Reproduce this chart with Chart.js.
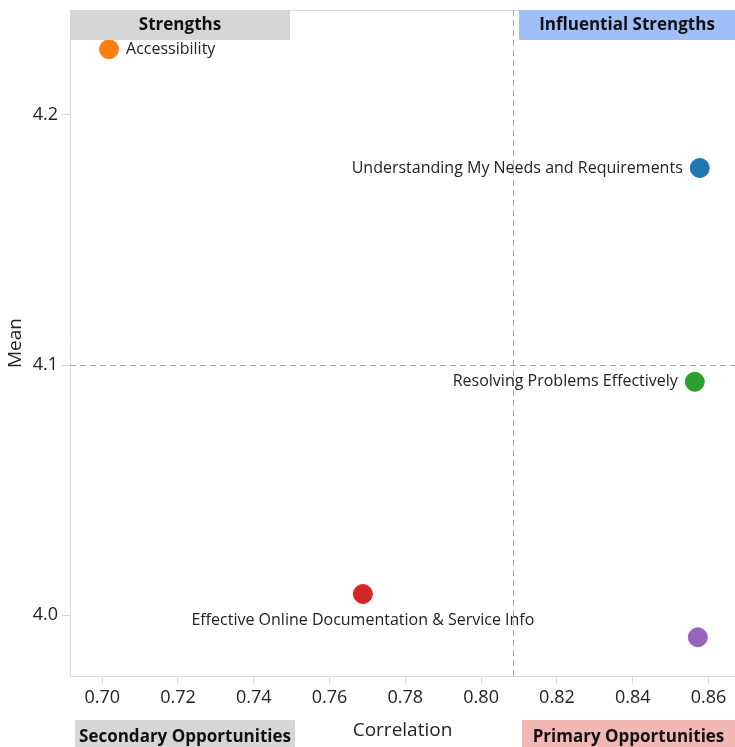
<!DOCTYPE html>
<html>
<head>
<meta charset="utf-8">
<script src="https://cdn.jsdelivr.net/npm/chart.js@4"></script>
<style>
  html, body { margin: 0; padding: 0; background: #fff; }
  #wrap { width: 735px; height: 747px; }
</style>
</head>
<body>
<div id="wrap"><canvas id="chart" width="735" height="747"></canvas></div>
<script>
// --- Data ---
const drivers = [
  "Understanding My Needs and Requirements",
  "Accessibility",
  "Resolving Problems Effectively",
  "Effective Online Documentation & Service Info",
  ""
];
const correlation = [0.8577, 0.7018, 0.8564, 0.7688, 0.8572];
const mean = [4.1788, 4.2263, 4.0933, 4.0084, 3.9911];
const colors = ["#1f77b4", "#ff7f0e", "#2ca02c", "#d62728", "#9467bd"];
const xTicks = [0.70, 0.72, 0.74, 0.76, 0.78, 0.80, 0.82, 0.84, 0.86];
const yTicks = [4.0, 4.1, 4.2];
const avgCorrelation = 0.8085;
const avgMean = 4.1;

const FONT = "'Open Sans', sans-serif";

// where each label sits relative to its dot
const labelSide = { 0: "left", 1: "right", 2: "left", 3: "below" };

function noPad(s) {
  s.paddingTop = 0; s.paddingBottom = 0; s.paddingLeft = 0; s.paddingRight = 0;
}

const overlay = {
  id: "overlay",
  beforeDatasetsDraw(chart) {
    const { ctx, chartArea: a, scales: { x, y } } = chart;
    ctx.save();
    // top border
    ctx.strokeStyle = "#dcdcdc";
    ctx.lineWidth = 1;
    ctx.beginPath();
    ctx.moveTo(a.left, a.top + 0.5);
    ctx.lineTo(a.right, a.top + 0.5);
    ctx.stroke();
    // average lines
    ctx.strokeStyle = "#a8a8a8";
    ctx.setLineDash([6, 4]);
    const px = Math.round(x.getPixelForValue(avgCorrelation)) + 0.5;
    const py = Math.round(y.getPixelForValue(avgMean)) + 0.5;
    ctx.beginPath();
    ctx.moveTo(px, a.top);
    ctx.lineTo(px, a.bottom);
    ctx.moveTo(a.left, py);
    ctx.lineTo(a.right, py);
    ctx.stroke();
    ctx.restore();
  },
  afterDatasetsDraw(chart) {
    const { ctx, chartArea: a } = chart;
    ctx.save();
    // point labels
    ctx.fillStyle = "#222";
    ctx.font = "16px " + FONT;
    const meta = chart.getDatasetMeta(0);
    meta.data.forEach((pt, i) => {
      const side = labelSide[i];
      if (!side || !drivers[i]) return;
      if (side === "left") {
        ctx.textAlign = "right"; ctx.textBaseline = "middle";
        ctx.fillText(drivers[i], pt.x - 17, pt.y);
      } else if (side === "right") {
        ctx.textAlign = "left"; ctx.textBaseline = "middle";
        ctx.fillText(drivers[i], pt.x + 17, pt.y);
      } else {
        ctx.textAlign = "center"; ctx.textBaseline = "middle";
        ctx.fillText(drivers[i], pt.x, pt.y + 26);
      }
    });
    // quadrant headers
    const boxes = [
      { text: "Strengths", x: a.left, y: a.top, w: 220, h: 30, fill: "#d6d6d6" },
      { text: "Influential Strengths", x: a.right - 216, y: a.top, w: 216, h: 30, fill: "#a0bff8" },
      { text: "Secondary Opportunities", x: a.left + 5, y: 720, w: 220, h: 30, fill: "#d6d6d6" },
      { text: "Primary Opportunities", x: a.right - 213, y: 720, w: 213, h: 30, fill: "#f0b7b3" }
    ];
    ctx.font = "bold 17px " + FONT;
    ctx.textAlign = "center";
    ctx.textBaseline = "middle";
    boxes.forEach(b => {
      ctx.fillStyle = b.fill;
      ctx.fillRect(b.x, b.y, b.w, b.h);
      ctx.fillStyle = "#111";
      ctx.fillText(b.text, b.x + b.w / 2, b.y + (b.y > 600 ? 17 : 15));
    });
    ctx.restore();
  }
};

new Chart(document.getElementById("chart").getContext("2d"), {
  type: "scatter",
  data: {
    datasets: [{
      data: correlation.map((c, i) => ({ x: c, y: mean[i] })),
      backgroundColor: colors,
      borderColor: colors,
      pointRadius: 9.5,
      pointHoverRadius: 9.5
    }]
  },
  options: {
    responsive: false,
    animation: false,
    events: [],
    layout: { autoPadding: false, padding: { top: 10, right: 0, left: 0, bottom: 0 } },
    plugins: { legend: { display: false }, tooltip: { enabled: false } },
    scales: {
      x: {
        type: "linear",
        min: 0.6915,
        max: 0.867,
        afterBuildTicks: s => { s.ticks = xTicks.map(v => ({ value: v })); },
        afterFit: s => { s.height = 71; noPad(s); },
        grid: { drawOnChartArea: false, color: "#d8d8d8", tickLength: 8, tickColor: "#d8d8d8" },
        border: { color: "#dcdcdc" },
        ticks: { color: "#222", font: { family: FONT, size: 18 }, padding: 3, callback: v => v.toFixed(2) },
        title: { display: true, text: "Correlation", color: "#222", font: { family: FONT, size: 19 }, padding: { top: 0, bottom: 5 } }
      },
      y: {
        type: "linear",
        min: 3.9756,
        max: 4.242,
        afterBuildTicks: s => { s.ticks = yTicks.map(v => ({ value: v })); },
        afterFit: s => { s.width = 70; noPad(s); },
        grid: { drawOnChartArea: false, color: "#d8d8d8", tickLength: 8, tickColor: "#d8d8d8" },
        border: { color: "#dcdcdc" },
        ticks: { color: "#222", font: { family: FONT, size: 18 }, padding: 4, callback: v => v.toFixed(1) },
        title: { display: true, text: "Mean", color: "#222", font: { family: FONT, size: 19 }, padding: { top: 4, bottom: 0 } }
      }
    }
  },
  plugins: [overlay]
});
</script>
</body>
</html>
